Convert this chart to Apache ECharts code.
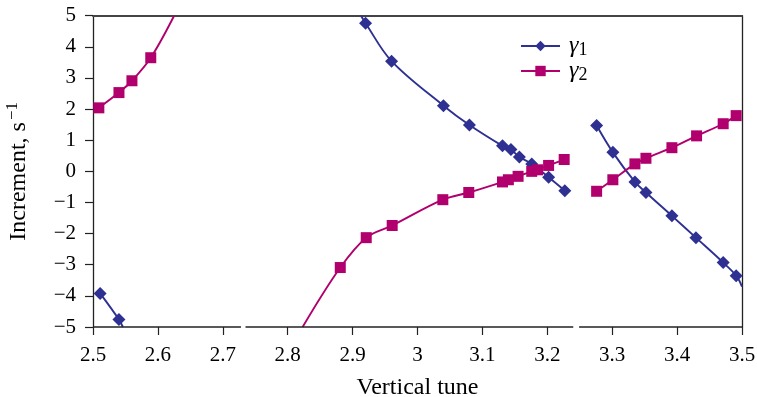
<!DOCTYPE html>
<html><head><meta charset="utf-8">
<script src="https://cdn.jsdelivr.net/npm/echarts@6/dist/echarts.min.js"></script>
<style>html,body{margin:0;padding:0;background:#fff}#c{width:757px;height:397px}</style>
</head><body><div id="c"></div>
<script>
// gamma1 branches [tune, increment]; "End"/"Start" entries = where the curve meets the frame (no marker)
const g1Left = [[2.511,-3.92],[2.540,-4.76]];
const g1LeftEnd = [[2.546,-5.0]];
const g1MidStart = [[2.913,5.0]];
const g1Mid = [[2.920,4.76],[2.960,3.54],[3.040,2.11],[3.080,1.49],[3.131,0.82],[3.144,0.70],[3.157,0.46],[3.176,0.24],[3.202,-0.19],[3.227,-0.62]];
const g1Right = [[3.276,1.47],[3.301,0.61],[3.335,-0.34],[3.352,-0.68],[3.392,-1.43],[3.429,-2.13],[3.471,-2.93],[3.491,-3.35]];
const g1RightEnd = [[3.5,-3.7]];
// gamma2 branches
const g2Left = [[2.509,2.04],[2.540,2.53],[2.560,2.91],[2.589,3.65]];
const g2LeftEnd = [[2.625,5.0]];
const g2MidStart = [[2.823,-5.0]];
const g2Mid = [[2.881,-3.09],[2.921,-2.13],[2.961,-1.74],[3.039,-0.91],[3.079,-0.68],[3.131,-0.34],[3.140,-0.27],[3.155,-0.16],[3.176,0.0],[3.185,0.05],[3.202,0.19],[3.226,0.38]];
const g2Right = [[3.276,-0.64],[3.301,-0.27],[3.335,0.24],[3.352,0.42],[3.392,0.76],[3.430,1.14],[3.471,1.53],[3.491,1.79]];
// bottom axis line drawn in segments (gaps in the original frame)
const axisSegments = [[2.5,2.728],[2.735,3.240],[3.249,3.5]];
const xMin = 2.5, xMax = 3.5, xStep = 0.1;
const yMin = -5, yMax = 5, yStep = 1;

const BLUE = '#2e3192', MAG = '#b1006d';
const FONT = 'Liberation Serif';

function hidden(arr){ return arr.map(p => ({value:p, symbol:'none'})); }
function branch(name, color, symbol, size, pre, pts, post){
  return {
    name, type:'line', smooth:0.35, color,
    symbol, symbolSize:size,
    lineStyle:{color, width:1.9},
    itemStyle:{color},
    data:[...hidden(pre), ...pts, ...hidden(post)],
    z:3
  };
}
const series = [
  branch('γ1', BLUE, 'diamond', 13, [], g1Left, g1LeftEnd),
  branch('γ1', BLUE, 'diamond', 13, g1MidStart, g1Mid, []),
  branch('γ1', BLUE, 'diamond', 13, [], g1Right, g1RightEnd),
  branch('γ2', MAG, 'rect', 11, [], g2Left, g2LeftEnd),
  branch('γ2', MAG, 'rect', 11, g2MidStart, g2Mid, []),
  branch('γ2', MAG, 'rect', 11, [], g2Right, []),
];
axisSegments.forEach(s => {
  series.push({
    type:'line', silent:true, symbol:'none', clip:false, z:4,
    lineStyle:{color:'#222', width:1.3},
    data:[[s[0], yMin],[s[1], yMin]]
  });
});

const chart = echarts.init(document.getElementById('c'));
chart.setOption({
  animation:false,
  textStyle:{fontFamily:FONT},
  grid:{left:93, right:15, top:15.7, bottom:70, containLabel:false, outerBoundsMode:'none'},
  legend:{
    data:['γ1','γ2'], orient:'vertical', left:520, top:34, padding:0,
    itemWidth:39, itemHeight:13, itemGap:0,
    formatter: n => '{g|γ}{s|' + n.slice(1) + '}',
    textStyle:{fontFamily:FONT, rich:{
      g:{fontFamily:FONT, fontSize:24, fontStyle:'italic', color:'#000', padding:[0,0,0,4]},
      s:{fontFamily:FONT, fontSize:18, color:'#000', padding:[8,0,0,0]}
    }}
  },
  xAxis:[{
    type:'value', min:xMin, max:xMax, interval:xStep,
    name:'Vertical tune', nameLocation:'middle', nameGap:49,
    nameTextStyle:{fontFamily:FONT, fontSize:24, color:'#000'},
    axisLine:{show:false, onZero:false},
    axisTick:{show:true, length:8, inside:false, lineStyle:{color:'#222', width:1.2}},
    axisLabel:{fontFamily:FONT, fontSize:21, color:'#000', margin:18,
      formatter:v => String(+v.toFixed(1))},
    splitLine:{show:false}
  },{
    type:'value', min:xMin, max:xMax, position:'top',
    axisLine:{show:true, onZero:false, lineStyle:{color:'#444', width:1.8}},
    axisTick:{show:false}, axisLabel:{show:false}, splitLine:{show:false}
  }],
  yAxis:[{
    type:'value', min:yMin, max:yMax, interval:yStep,
    name:'{a|Increment, s}{b|−1}', nameLocation:'middle', nameGap:60,
    nameTextStyle:{fontFamily:FONT, fontSize:24, color:'#000', rich:{
      a:{fontFamily:FONT, fontSize:24, color:'#000'},
      b:{fontFamily:FONT, fontSize:17, color:'#000', padding:[0,0,12,2]}
    }},
    axisLine:{show:true, onZero:false, lineStyle:{color:'#222', width:1.3}},
    axisTick:{show:true, length:8, lineStyle:{color:'#222', width:1.2}},
    axisLabel:{fontFamily:FONT, fontSize:21, color:'#000', margin:17,
      formatter:v => (v < 0 ? '\u2212' + Math.abs(v) : String(v))},
    splitLine:{show:false}
  },{
    type:'value', min:yMin, max:yMax, position:'right',
    axisLine:{show:true, onZero:false, lineStyle:{color:'#222', width:1.3}},
    axisTick:{show:false}, axisLabel:{show:false}, splitLine:{show:false}
  }],
  series
});
</script></body></html>
